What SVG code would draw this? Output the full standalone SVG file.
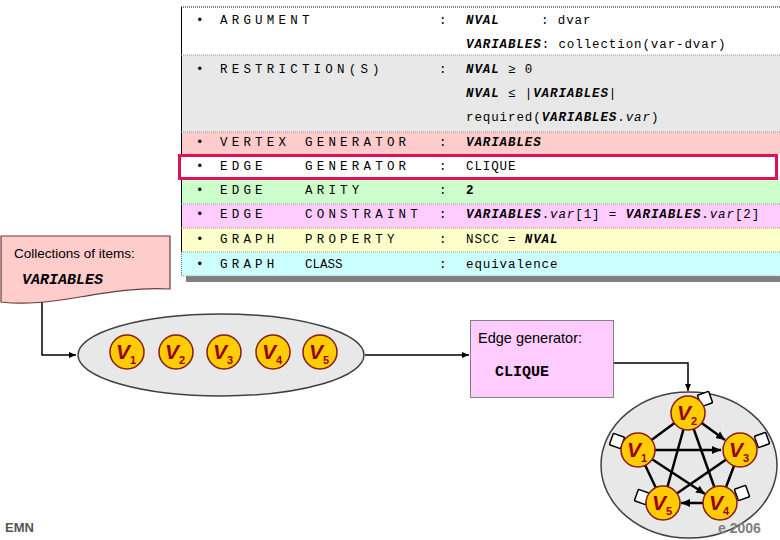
<svg xmlns="http://www.w3.org/2000/svg" width="780" height="540" viewBox="0 0 780 540">
<defs>
<style>
.lbl{font-family:"Liberation Mono",monospace;font-size:12.5px;letter-spacing:4.2px;fill:#000}
.val{font-family:"Liberation Mono",monospace;font-size:12.5px;letter-spacing:0.9px;fill:#000}
.it{font-style:italic;font-weight:bold}
.sep{stroke:#999;stroke-width:1;stroke-dasharray:1 1}
.vc{fill:#ffcc00;stroke:#8b1a1a;stroke-width:1.5}
.vt{font-family:"Liberation Sans",Arial,sans-serif;font-weight:bold;font-style:italic;font-size:21px;fill:#990000}
.vs{font-size:11px;font-style:normal}
.edge{stroke:#000;stroke-width:2.5;fill:none}
.conn{stroke:#000;stroke-width:1.5;fill:none}
.loop{fill:#fff;stroke:#000;stroke-width:1.5}
.sans{font-family:"Liberation Sans",Arial,sans-serif}
</style>
<marker id="ah" markerWidth="8" markerHeight="8" refX="7" refY="4" orient="auto" markerUnits="userSpaceOnUse">
<path d="M0,1 L7,4 L0,7 Z" fill="#000"/>
</marker>
<marker id="ah2" markerWidth="10" markerHeight="10" refX="9" refY="5" orient="auto" markerUnits="userSpaceOnUse">
<path d="M0,1 L9,5 L0,9 Z" fill="#000"/>
</marker>
</defs>
<rect width="780" height="540" fill="#fff"/>

<!-- table -->
<g id="table">
<rect x="186" y="276" width="594" height="6" fill="#808080"/>
<rect x="181" y="7" width="599" height="48" fill="#fff"/>
<rect x="181" y="55" width="599" height="77" fill="#e8e8e8"/>
<rect x="181" y="132" width="599" height="22" fill="#ffcccc"/>
<rect x="181" y="180" width="599" height="24" fill="#ccffcc"/>
<rect x="181" y="204" width="599" height="24" fill="#ffccff"/>
<rect x="181" y="228" width="599" height="24" fill="#ffffcc"/>
<rect x="181" y="252" width="599" height="24" fill="#ccffff"/>
<line x1="181" y1="7" x2="780" y2="7" stroke="#000" stroke-width="1" stroke-dasharray="1 1"/>
<line x1="181.5" y1="7" x2="181.5" y2="252" stroke="#000" stroke-width="1"/>
<line x1="181.5" y1="252" x2="181.5" y2="276" stroke="#777" stroke-width="1" stroke-dasharray="1 1"/>
<line class="sep" x1="181" y1="55" x2="780" y2="55"/>
<line class="sep" x1="181" y1="132" x2="780" y2="132"/>
<line class="sep" x1="181" y1="204" x2="780" y2="204"/>
<line class="sep" x1="181" y1="228" x2="780" y2="228"/>
<line class="sep" x1="181" y1="252" x2="780" y2="252"/>
<line class="sep" x1="181" y1="276" x2="780" y2="276"/>
<rect x="179.5" y="155.5" width="597" height="23" fill="#fff" stroke="#e0105a" stroke-width="3"/>

<g class="lbl">
<text x="196" y="24">•</text><text x="220" y="24">ARGUMENT</text>
<text x="196" y="73">•</text><text x="220" y="73">RESTRICTION(S)</text>
<text x="196" y="146">•</text><text x="220" y="146">VERTEX</text><text x="305" y="146">GENERATOR</text>
<text x="196" y="170">•</text><text x="220" y="170">EDGE</text><text x="305" y="170">GENERATOR</text>
<text x="196" y="194">•</text><text x="220" y="194">EDGE</text><text x="305" y="194">ARITY</text>
<text x="196" y="218">•</text><text x="220" y="218">EDGE</text><text x="305" y="218">CONSTRAINT</text>
<text x="196" y="243">•</text><text x="220" y="243">GRAPH</text><text x="305" y="243">PROPERTY</text>
<text x="196" y="268">•</text><text x="220" y="268">GRAPH</text><text x="305" y="268" letter-spacing="0">CLASS</text>
<text x="439" y="24">:</text>
<text x="439" y="73">:</text>
<text x="439" y="146">:</text>
<text x="439" y="170">:</text>
<text x="439" y="194">:</text>
<text x="439" y="218">:</text>
<text x="439" y="243">:</text>
<text x="439" y="268">:</text>
</g>
<g class="val">
<text x="466" y="24"><tspan class="it">NVAL</tspan></text><text x="541" y="24">: dvar</text>
<text x="466" y="48"><tspan class="it">VARIABLES</tspan>: collection(var-dvar)</text>
<text x="466" y="73"><tspan class="it">NVAL</tspan> ≥ 0</text>
<text x="466" y="97"><tspan class="it">NVAL</tspan> ≤ |<tspan class="it">VARIABLES</tspan>|</text>
<text x="466" y="121">required(<tspan class="it">VARIABLES</tspan>.<tspan font-style="italic">var</tspan>)</text>
<text x="466" y="146"><tspan class="it">VARIABLES</tspan></text>
<text x="466" y="170">CLIQUE</text>
<text x="466" y="194" font-weight="bold">2</text>
<text x="466" y="218"><tspan class="it">VARIABLES</tspan>.<tspan font-style="italic">var</tspan>[1] = <tspan class="it">VARIABLES</tspan>.<tspan font-style="italic">var</tspan>[2]</text>
<text x="466" y="243">NSCC = <tspan class="it">NVAL</tspan></text>
<text x="466" y="268">equivalence</text>
</g>
</g>

<!-- connectors -->
<g id="connectors">
<path class="conn" d="M42,301 V355 H76" marker-end="url(#ah)"/>
<path class="conn" d="M365,355 H469" stroke-width="2" marker-end="url(#ah)"/>
<path class="conn" d="M614,363 H688 V391" marker-end="url(#ah)"/>
</g>

<g id="collections">
<path d="M1,236 H170 V289 C140,287 110,292 80,297 C50,302 25,305 1,302 Z" fill="#ffcccc" stroke="#6b3a3a" stroke-width="1.2"/>
<text class="sans" x="14" y="258" font-size="13.5">Collections of items:</text>
<text x="22" y="284" font-family="'Liberation Mono',monospace" font-size="15" font-weight="bold" font-style="italic">VARIABLES</text>
</g>

<g id="vertex-set">
<ellipse cx="221" cy="355" rx="143" ry="41" fill="#e8e8e8" stroke="#404040" stroke-width="1.5"/>
</g>
<g id="v1"><circle class="vc" cx="127" cy="352" r="17"/><text class="vt" x="116" y="359">V<tspan class="vs" dy="5">1</tspan></text></g>
<g id="v2"><circle class="vc" cx="176" cy="352" r="17"/><text class="vt" x="165" y="359">V<tspan class="vs" dy="5">2</tspan></text></g>
<g id="v3"><circle class="vc" cx="224" cy="352" r="17"/><text class="vt" x="213" y="359">V<tspan class="vs" dy="5">3</tspan></text></g>
<g id="v4"><circle class="vc" cx="273" cy="352" r="17"/><text class="vt" x="262" y="359">V<tspan class="vs" dy="5">4</tspan></text></g>
<g id="v5"><circle class="vc" cx="320" cy="352" r="17"/><text class="vt" x="309" y="359">V<tspan class="vs" dy="5">5</tspan></text></g>

<g id="edge-generator">
<rect x="470.5" y="320.5" width="143" height="77" fill="#ffccff" stroke="#808080" stroke-width="1"/>
<text class="sans" x="478" y="343" font-size="14.5">Edge generator:</text>
<text x="495" y="376" font-family="'Liberation Mono',monospace" font-size="15" font-weight="bold">CLIQUE</text>
</g>

<g id="clique-graph">
<ellipse cx="689" cy="465" rx="88" ry="73" fill="#e8e8e8" stroke="#404040" stroke-width="1.5"/>
<text class="sans" x="718" y="533" font-size="14" font-weight="bold" fill="#808080">e 2006</text>
<g id="clique-edges">
<line class="edge" x1="638" y1="450" x2="721" y2="450" marker-end="url(#ah2)"/>
<line class="edge" x1="688" y1="413" x2="725" y2="440" marker-end="url(#ah2)"/>
<line class="edge" x1="720" y1="503" x2="681" y2="503" marker-end="url(#ah2)"/>
<line class="edge" x1="638" y1="450" x2="705" y2="494" marker-end="url(#ah2)"/>
<line class="edge" x1="688" y1="413" x2="638" y2="450"/>
<line class="edge" x1="688" y1="413" x2="663" y2="503"/>
<line class="edge" x1="688" y1="413" x2="720" y2="503"/>
<line class="edge" x1="638" y1="450" x2="663" y2="503"/>
<line class="edge" x1="740" y1="450" x2="663" y2="503"/>
<line class="edge" x1="740" y1="450" x2="720" y2="503"/>
</g>
<rect class="loop" x="699" y="393" width="12" height="12" rx="1" transform="rotate(-20 705 399)"/>
<rect class="loop" x="611" y="435" width="12" height="12" rx="1" transform="rotate(20 617 441)"/>
<rect class="loop" x="756" y="434" width="12" height="12" rx="1" transform="rotate(-20 762 440)"/>
<rect class="loop" x="636" y="491" width="12" height="12" rx="1" transform="rotate(20 642 497)"/>
<rect class="loop" x="736" y="487" width="12" height="12" rx="1" transform="rotate(-20 742 493)"/>
</g>
<g id="c2"><circle class="vc" cx="688" cy="413" r="17"/><text class="vt" x="677" y="420">V<tspan class="vs" dy="5">2</tspan></text></g>
<g id="c1"><circle class="vc" cx="638" cy="450" r="17"/><text class="vt" x="627" y="457">V<tspan class="vs" dy="5">1</tspan></text></g>
<g id="c3"><circle class="vc" cx="740" cy="450" r="17"/><text class="vt" x="729" y="457">V<tspan class="vs" dy="5">3</tspan></text></g>
<g id="c5"><circle class="vc" cx="663" cy="503" r="17"/><text class="vt" x="652" y="510">V<tspan class="vs" dy="5">5</tspan></text></g>
<g id="c4"><circle class="vc" cx="720" cy="503" r="17"/><text class="vt" x="709" y="510">V<tspan class="vs" dy="5">4</tspan></text></g>

<text class="sans" x="5" y="532" font-size="13" font-weight="bold" fill="#555">EMN</text>
</svg>
